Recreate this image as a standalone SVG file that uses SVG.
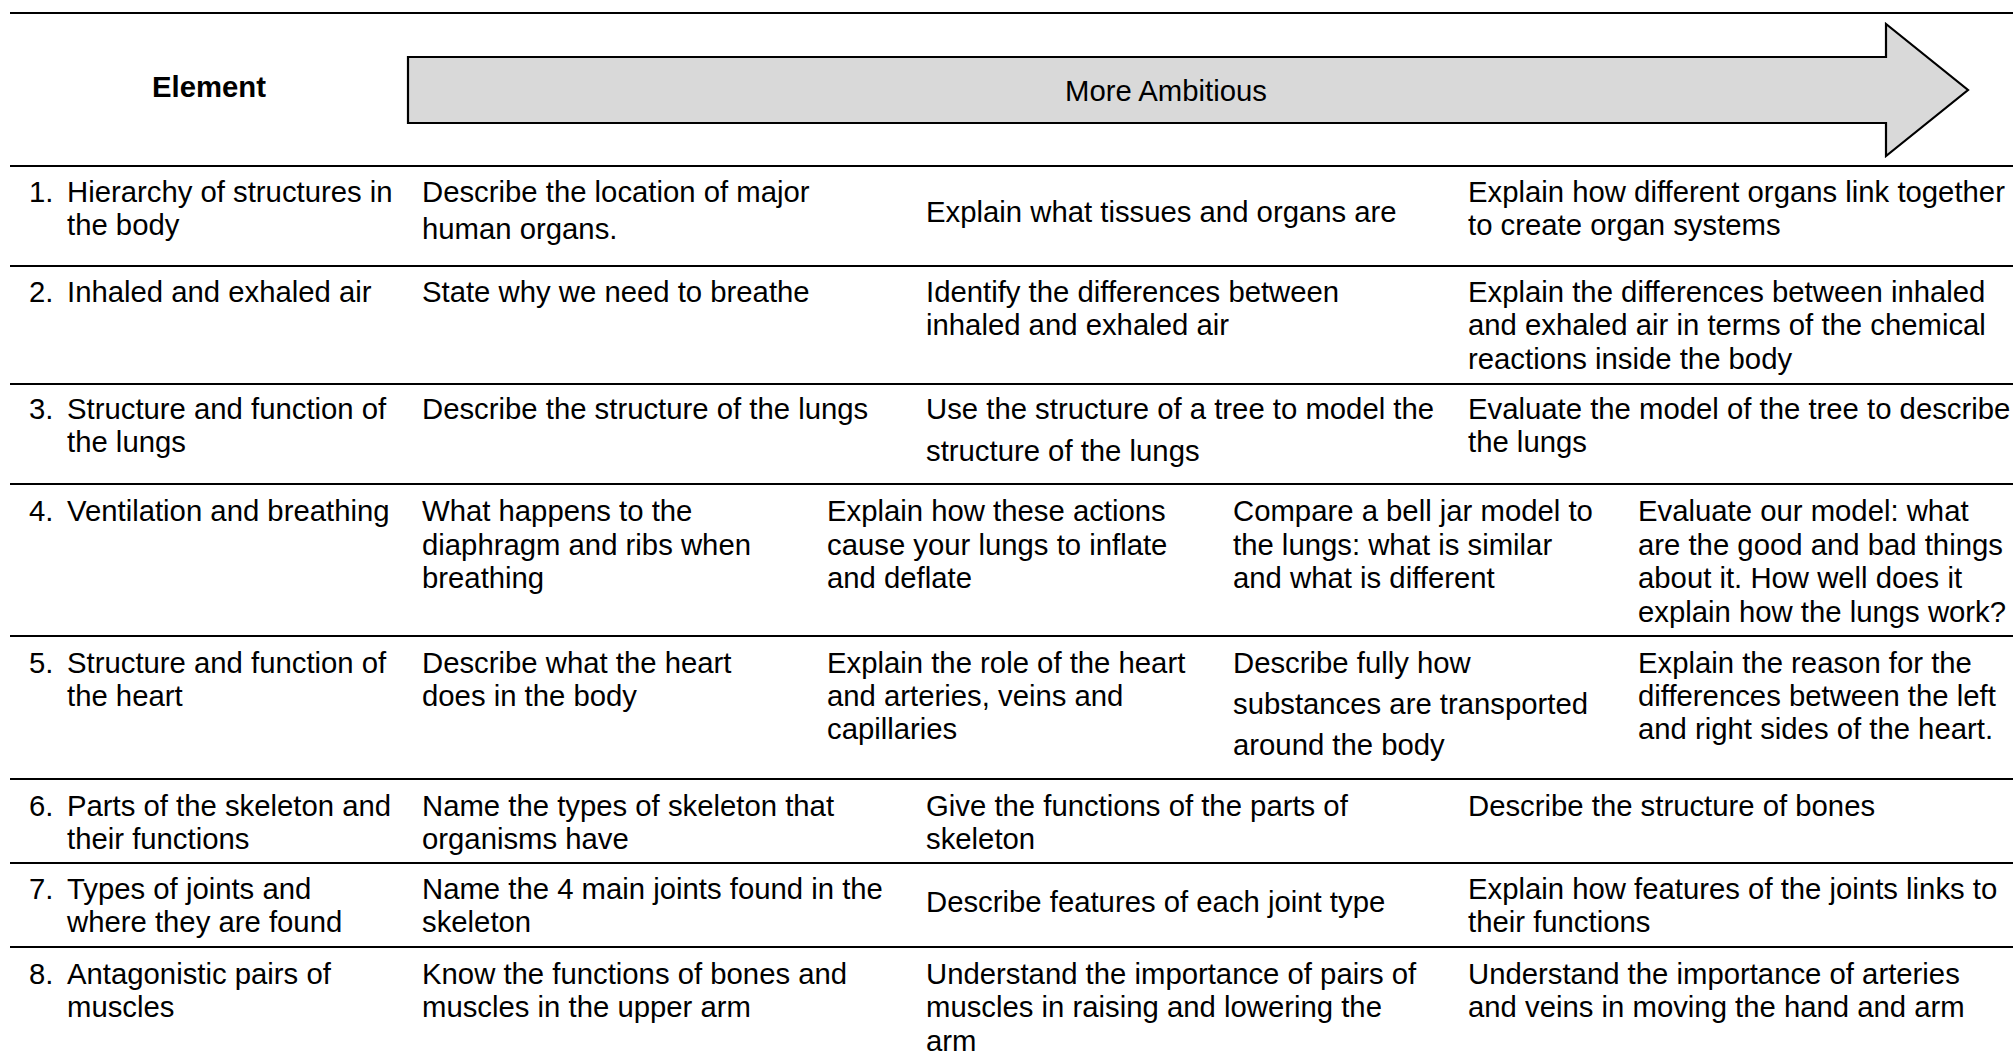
<svg xmlns="http://www.w3.org/2000/svg" width="2013" height="1060" viewBox="0 0 2013 1060">
<style>
  text { font-family: "Liberation Sans", Arial, sans-serif; font-size: 29.3px; fill: #000; }
  .hdr { font-weight: bold; }
  .rule { stroke: #000; stroke-width: 2; }
  .arrow { fill: #d9d9d9; stroke: #000; stroke-width: 2.2; stroke-linejoin: miter; }
</style>
<rect width="2013" height="1060" fill="#fff"/>
<g id="rules">
  <line class="rule" x1="10" y1="13" x2="2013" y2="13"/>
  <line class="rule" x1="10" y1="166" x2="2013" y2="166"/>
  <line class="rule" x1="10" y1="266" x2="2013" y2="266"/>
  <line class="rule" x1="10" y1="384" x2="2013" y2="384"/>
  <line class="rule" x1="10" y1="484" x2="2013" y2="484"/>
  <line class="rule" x1="10" y1="636" x2="2013" y2="636"/>
  <line class="rule" x1="10" y1="779" x2="2013" y2="779"/>
  <line class="rule" x1="10" y1="863" x2="2013" y2="863"/>
  <line class="rule" x1="10" y1="947" x2="2013" y2="947"/>
</g>
<g id="header">
  <text class="hdr" x="209" y="97" text-anchor="middle">Element</text>
  <g id="arrow">
    <path class="arrow" d="M408,57 L1886,57 L1886,24 L1968,90 L1886,156 L1886,123 L408,123 Z"/>
    <text x="1166" y="101" text-anchor="middle">More Ambitious</text>
  </g>
</g>
<g id="row1">
  <text x="29" y="202">1.</text>
  <text><tspan x="67" y="202">Hierarchy of structures in</tspan><tspan x="67" y="235">the body</tspan></text>
  <text><tspan x="422" y="202">Describe the location of major</tspan><tspan x="422" y="239">human organs.</tspan></text>
  <text x="926" y="222">Explain what tissues and organs are</text>
  <text><tspan x="1468" y="202">Explain how different organs link together</tspan><tspan x="1468" y="235">to create organ systems</tspan></text>
</g>
<g id="row2">
  <text x="29" y="302">2.</text>
  <text x="67" y="302">Inhaled and exhaled air</text>
  <text x="422" y="302">State why we need to breathe</text>
  <text><tspan x="926" y="302">Identify the differences between</tspan><tspan x="926" y="335">inhaled and exhaled air</tspan></text>
  <text><tspan x="1468" y="302">Explain the differences between inhaled</tspan><tspan x="1468" y="335">and exhaled air in terms of the chemical</tspan><tspan x="1468" y="369">reactions inside the body</tspan></text>
</g>
<g id="row3">
  <text x="29" y="419">3.</text>
  <text><tspan x="67" y="419">Structure and function of</tspan><tspan x="67" y="452">the lungs</tspan></text>
  <text x="422" y="419">Describe the structure of the lungs</text>
  <text><tspan x="926" y="419">Use the structure of a tree to model the</tspan><tspan x="926" y="461">structure of the lungs</tspan></text>
  <text><tspan x="1468" y="419">Evaluate the model of the tree to describe</tspan><tspan x="1468" y="452">the lungs</tspan></text>
</g>
<g id="row4">
  <text x="29" y="521">4.</text>
  <text x="67" y="521">Ventilation and breathing</text>
  <text><tspan x="422" y="521">What happens to the</tspan><tspan x="422" y="555">diaphragm and ribs when</tspan><tspan x="422" y="588">breathing</tspan></text>
  <text><tspan x="827" y="521">Explain how these actions</tspan><tspan x="827" y="555">cause your lungs to inflate</tspan><tspan x="827" y="588">and deflate</tspan></text>
  <text><tspan x="1233" y="521">Compare a bell jar model to</tspan><tspan x="1233" y="555">the lungs: what is similar</tspan><tspan x="1233" y="588">and what is different</tspan></text>
  <text><tspan x="1638" y="521">Evaluate our model: what</tspan><tspan x="1638" y="555">are the good and bad things</tspan><tspan x="1638" y="588">about it. How well does it</tspan><tspan x="1638" y="622">explain how the lungs work?</tspan></text>
</g>
<g id="row5">
  <text x="29" y="673">5.</text>
  <text><tspan x="67" y="673">Structure and function of</tspan><tspan x="67" y="706">the heart</tspan></text>
  <text><tspan x="422" y="673">Describe what the heart</tspan><tspan x="422" y="706">does in the body</tspan></text>
  <text><tspan x="827" y="673">Explain the role of the heart</tspan><tspan x="827" y="706">and arteries, veins and</tspan><tspan x="827" y="739">capillaries</tspan></text>
  <text><tspan x="1233" y="673">Describe fully how</tspan><tspan x="1233" y="714">substances are transported</tspan><tspan x="1233" y="755">around the body</tspan></text>
  <text><tspan x="1638" y="673">Explain the reason for the</tspan><tspan x="1638" y="706">differences between the left</tspan><tspan x="1638" y="739">and right sides of the heart.</tspan></text>
</g>
<g id="row6">
  <text x="29" y="816">6.</text>
  <text><tspan x="67" y="816">Parts of the skeleton and</tspan><tspan x="67" y="849">their functions</tspan></text>
  <text><tspan x="422" y="816">Name the types of skeleton that</tspan><tspan x="422" y="849">organisms have</tspan></text>
  <text><tspan x="926" y="816">Give the functions of the parts of</tspan><tspan x="926" y="849">skeleton</tspan></text>
  <text x="1468" y="816">Describe the structure of bones</text>
</g>
<g id="row7">
  <text x="29" y="899">7.</text>
  <text><tspan x="67" y="899">Types of joints and</tspan><tspan x="67" y="932">where they are found</tspan></text>
  <text><tspan x="422" y="899">Name the 4 main joints found in the</tspan><tspan x="422" y="932">skeleton</tspan></text>
  <text x="926" y="912">Describe features of each joint type</text>
  <text><tspan x="1468" y="899">Explain how features of the joints links to</tspan><tspan x="1468" y="932">their functions</tspan></text>
</g>
<g id="row8">
  <text x="29" y="984">8.</text>
  <text><tspan x="67" y="984">Antagonistic pairs of</tspan><tspan x="67" y="1017">muscles</tspan></text>
  <text><tspan x="422" y="984">Know the functions of bones and</tspan><tspan x="422" y="1017">muscles in the upper arm</tspan></text>
  <text><tspan x="926" y="984">Understand the importance of pairs of</tspan><tspan x="926" y="1017">muscles in raising and lowering the</tspan><tspan x="926" y="1051">arm</tspan></text>
  <text><tspan x="1468" y="984">Understand the importance of arteries</tspan><tspan x="1468" y="1017">and veins in moving the hand and arm</tspan></text>
</g>
</svg>
